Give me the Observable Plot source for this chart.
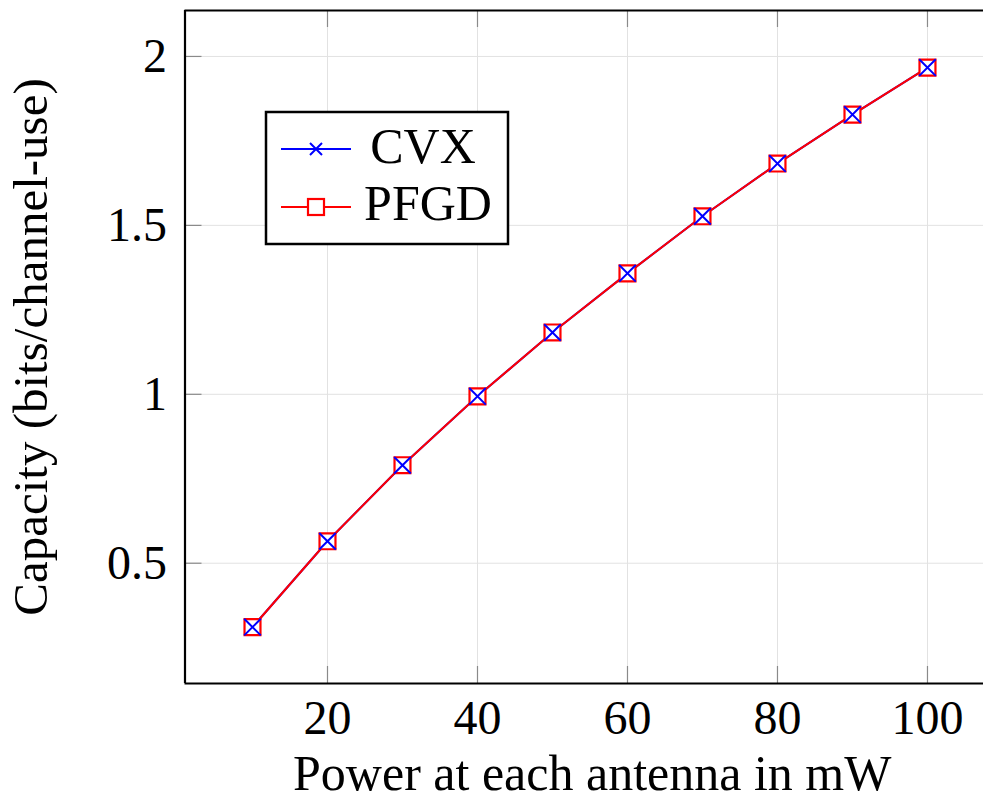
<!DOCTYPE html>
<html>
<head>
<meta charset="utf-8">
<script src="https://cdn.jsdelivr.net/npm/d3@7"></script>
<script src="https://cdn.jsdelivr.net/npm/@observablehq/plot@0.6"></script>
<style>
  html, body { margin: 0; padding: 0; background: #fff; }
  #chart svg { display: block; }
</style>
</head>
<body>
<div id="chart"></div>
<script>
// ---- data ----
const power = [10, 20, 30, 40, 50, 60, 70, 80, 90, 100];
const cvx   = [0.311, 0.565, 0.790, 0.994, 1.183, 1.358, 1.527, 1.683, 1.828, 1.967];
const pfgd  = [0.311, 0.565, 0.790, 0.994, 1.183, 1.358, 1.527, 1.683, 1.828, 1.967];
const xTicks = [20, 40, 60, 80, 100];
const yTicks = [0.5, 1, 1.5, 2];
const seriesNames = ["CVX", "PFGD"];
const xLabel = "Power at each antenna in mW";
const yLabel = "Capacity (bits/channel-use)";

// ---- layout ----
const W = 983, H = 802;
const mL = 184.5, mT = 10, mB = 119, mR = 0;
const plotW = W - mL - mR, plotH = H - mT - mB;
const xDomain = [1, 107.47];
const yDomain = [0.144, 2.136];
const tickLen = 17;
const font = "'Liberation Serif', 'Times New Roman', serif";

const cvxData = power.map((p, i) => ({x: p, y: cvx[i]}));
const pfgdData = power.map((p, i) => ({x: p, y: pfgd[i]}));

const chart = Plot.plot({
  width: W,
  height: H,
  marginLeft: mL,
  marginRight: mR,
  marginTop: mT,
  marginBottom: mB,
  style: {fontFamily: font, background: "#fff", color: "#000"},
  x: {domain: xDomain, axis: null},
  y: {domain: yDomain, axis: null},
  marks: [
    // grid
    Plot.ruleX(xTicks, {stroke: "#e2e2e2", strokeWidth: 1}),
    Plot.ruleY(yTicks, {stroke: "#e2e2e2", strokeWidth: 1}),
    // inward ticks
    Plot.ruleX(xTicks, {stroke: "#8a8a8a", strokeWidth: 1.2, insetTop: plotH - tickLen}),
    Plot.ruleX(xTicks, {stroke: "#8a8a8a", strokeWidth: 1.2, insetBottom: plotH - tickLen}),
    Plot.ruleY(yTicks, {stroke: "#8a8a8a", strokeWidth: 1.2, insetRight: plotW - tickLen}),
    // tick labels
    Plot.axisX(xTicks, {tickSize: 0, tickPadding: 16, fontSize: 48, tickFormat: d => String(d), label: null}),
    Plot.axisY(yTicks, {tickSize: 0, tickPadding: 18, fontSize: 48, tickFormat: d => String(d), label: null}),
    // data
    Plot.line(cvxData, {x: "x", y: "y", stroke: "blue", strokeWidth: 2}),
    Plot.line(pfgdData, {x: "x", y: "y", stroke: "red", strokeWidth: 2}),
    Plot.dot(pfgdData, {x: "x", y: "y", symbol: "square", r: 9, stroke: "red", strokeWidth: 2.2, fill: "white"}),
    Plot.dot(cvxData, {x: "x", y: "y", symbol: "times", r: 7.6, stroke: "blue", strokeWidth: 2}),
    // frame (right edge lies outside the page)
    Plot.ruleY([yDomain[0], yDomain[1]], {stroke: "#000", strokeWidth: 2.2}),
    Plot.ruleX([xDomain[0]], {stroke: "#000", strokeWidth: 2.2}),
    // axis titles
    Plot.text([xLabel], {text: d => d, frameAnchor: "bottom", textAnchor: "middle", dx: 8, dy: 90, fontSize: 50, lineAnchor: "middle"}),
    Plot.text([yLabel], {text: d => d, frameAnchor: "left", textAnchor: "middle", rotate: -90, dx: -154, fontSize: 49, lineAnchor: "middle"})
  ]
});

// ---- legend ----
const svg = d3.select(chart);
const lg = svg.append("g").attr("font-family", font);
lg.append("rect").attr("x", 266).attr("y", 112).attr("width", 242).attr("height", 132)
  .attr("fill", "white").attr("stroke", "black").attr("stroke-width", 2.5);
const legendRows = [
  {name: seriesNames[0], color: "blue", cy: 149, tx: 423, base: 163, sym: "times"},
  {name: seriesNames[1], color: "red", cy: 207, tx: 428, base: 220, sym: "square"}
];
for (const r of legendRows) {
  lg.append("line").attr("x1", 281).attr("x2", 351).attr("y1", r.cy).attr("y2", r.cy)
    .attr("stroke", r.color).attr("stroke-width", 2);
  if (r.sym === "times") {
    lg.append("path").attr("d", `M${316-6},${r.cy-6}L${316+6},${r.cy+6}M${316-6},${r.cy+6}L${316+6},${r.cy-6}`)
      .attr("stroke", r.color).attr("stroke-width", 2).attr("fill", "none");
  } else {
    lg.append("rect").attr("x", 316 - 8).attr("y", r.cy - 8).attr("width", 16).attr("height", 16)
      .attr("stroke", r.color).attr("stroke-width", 2.2).attr("fill", "white");
  }
  lg.append("text").attr("x", r.tx).attr("y", r.base).attr("text-anchor", "middle")
    .attr("font-size", 50).attr("fill", "black").text(r.name);
}

document.getElementById("chart").appendChild(chart);
</script>
</body>
</html>
